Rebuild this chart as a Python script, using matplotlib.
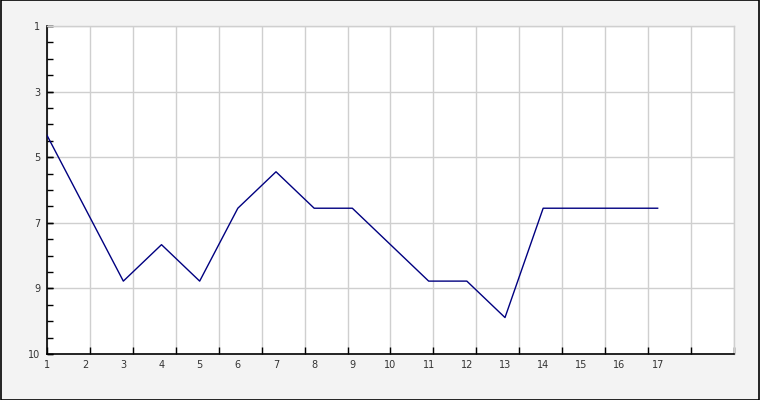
import numpy as np
import matplotlib
matplotlib.use("Agg")
import matplotlib.pyplot as plt
from matplotlib.patches import Rectangle
from matplotlib.ticker import FixedLocator, NullFormatter

# Data
categories = list(range(1, 18))
values = [4, 6, 8, 7, 8, 6, 5, 6, 6, 7, 8, 8, 9, 6, 6, 6, 6]
x_labels = [str(c) for c in categories]
y_tick_values = [1.0, 2.8, 4.6, 6.4, 8.2, 10.0]
y_tick_labels = ["1", "3", "5", "7", "9", "10"]

fig = plt.figure(figsize=(7.6, 4.0), dpi=100)
fig.patch.set_facecolor("#f3f3f3")
fig.patches.append(Rectangle((0.0007, 0.0012), 0.9986, 0.9976, transform=fig.transFigure,
                             fill=False, edgecolor="black", linewidth=1.2))

W, H = 760, 400
left, top, right, bottom = 47, 26, 734, 354
ax = fig.add_axes([left / W, (H - bottom) / H, (right - left) / W, (bottom - top) / H])
ax.set_facecolor("white")

ax.plot(categories, values, color="#000080", linewidth=1.0, zorder=3)

ax.set_xlim(1, 19)
ax.set_ylim(10, 1)

grid_c = "#cfcfcf"
ax.xaxis.remove_overlapping_locs = False
ax.yaxis.remove_overlapping_locs = False
# x: major ticks (grid) evenly spaced, minor ticks carry labels
ax.xaxis.set_major_locator(FixedLocator(np.linspace(1, 19, 17)))
ax.xaxis.set_major_formatter(NullFormatter())
ax.xaxis.set_minor_locator(FixedLocator(categories))
ax.set_xticklabels(x_labels, minor=True)
ax.tick_params(axis="x", which="major", direction="in", length=5, width=1, color="black")
ax.tick_params(axis="x", which="minor", length=0, pad=4, labelsize=7, labelcolor="#333333")

ax.yaxis.set_major_locator(FixedLocator(y_tick_values))
ax.set_yticklabels(y_tick_labels)
ax.yaxis.set_minor_locator(FixedLocator(np.arange(1, 10.01, 0.45)))
ax.tick_params(axis="y", which="both", direction="in", length=4, width=1, color="black",
               labelsize=7, labelcolor="#333333", pad=5)

ax.grid(True, which="major", color=grid_c, linewidth=1.0, zorder=0)
ax.set_axisbelow(True)

for s in ["top", "right"]:
    ax.spines[s].set_color(grid_c)
    ax.spines[s].set_linewidth(1.0)
for s in ["left", "bottom"]:
    ax.spines[s].set_color("black")
    ax.spines[s].set_linewidth(1.2)

fig.savefig("out.png", dpi=100, facecolor=fig.get_facecolor())
